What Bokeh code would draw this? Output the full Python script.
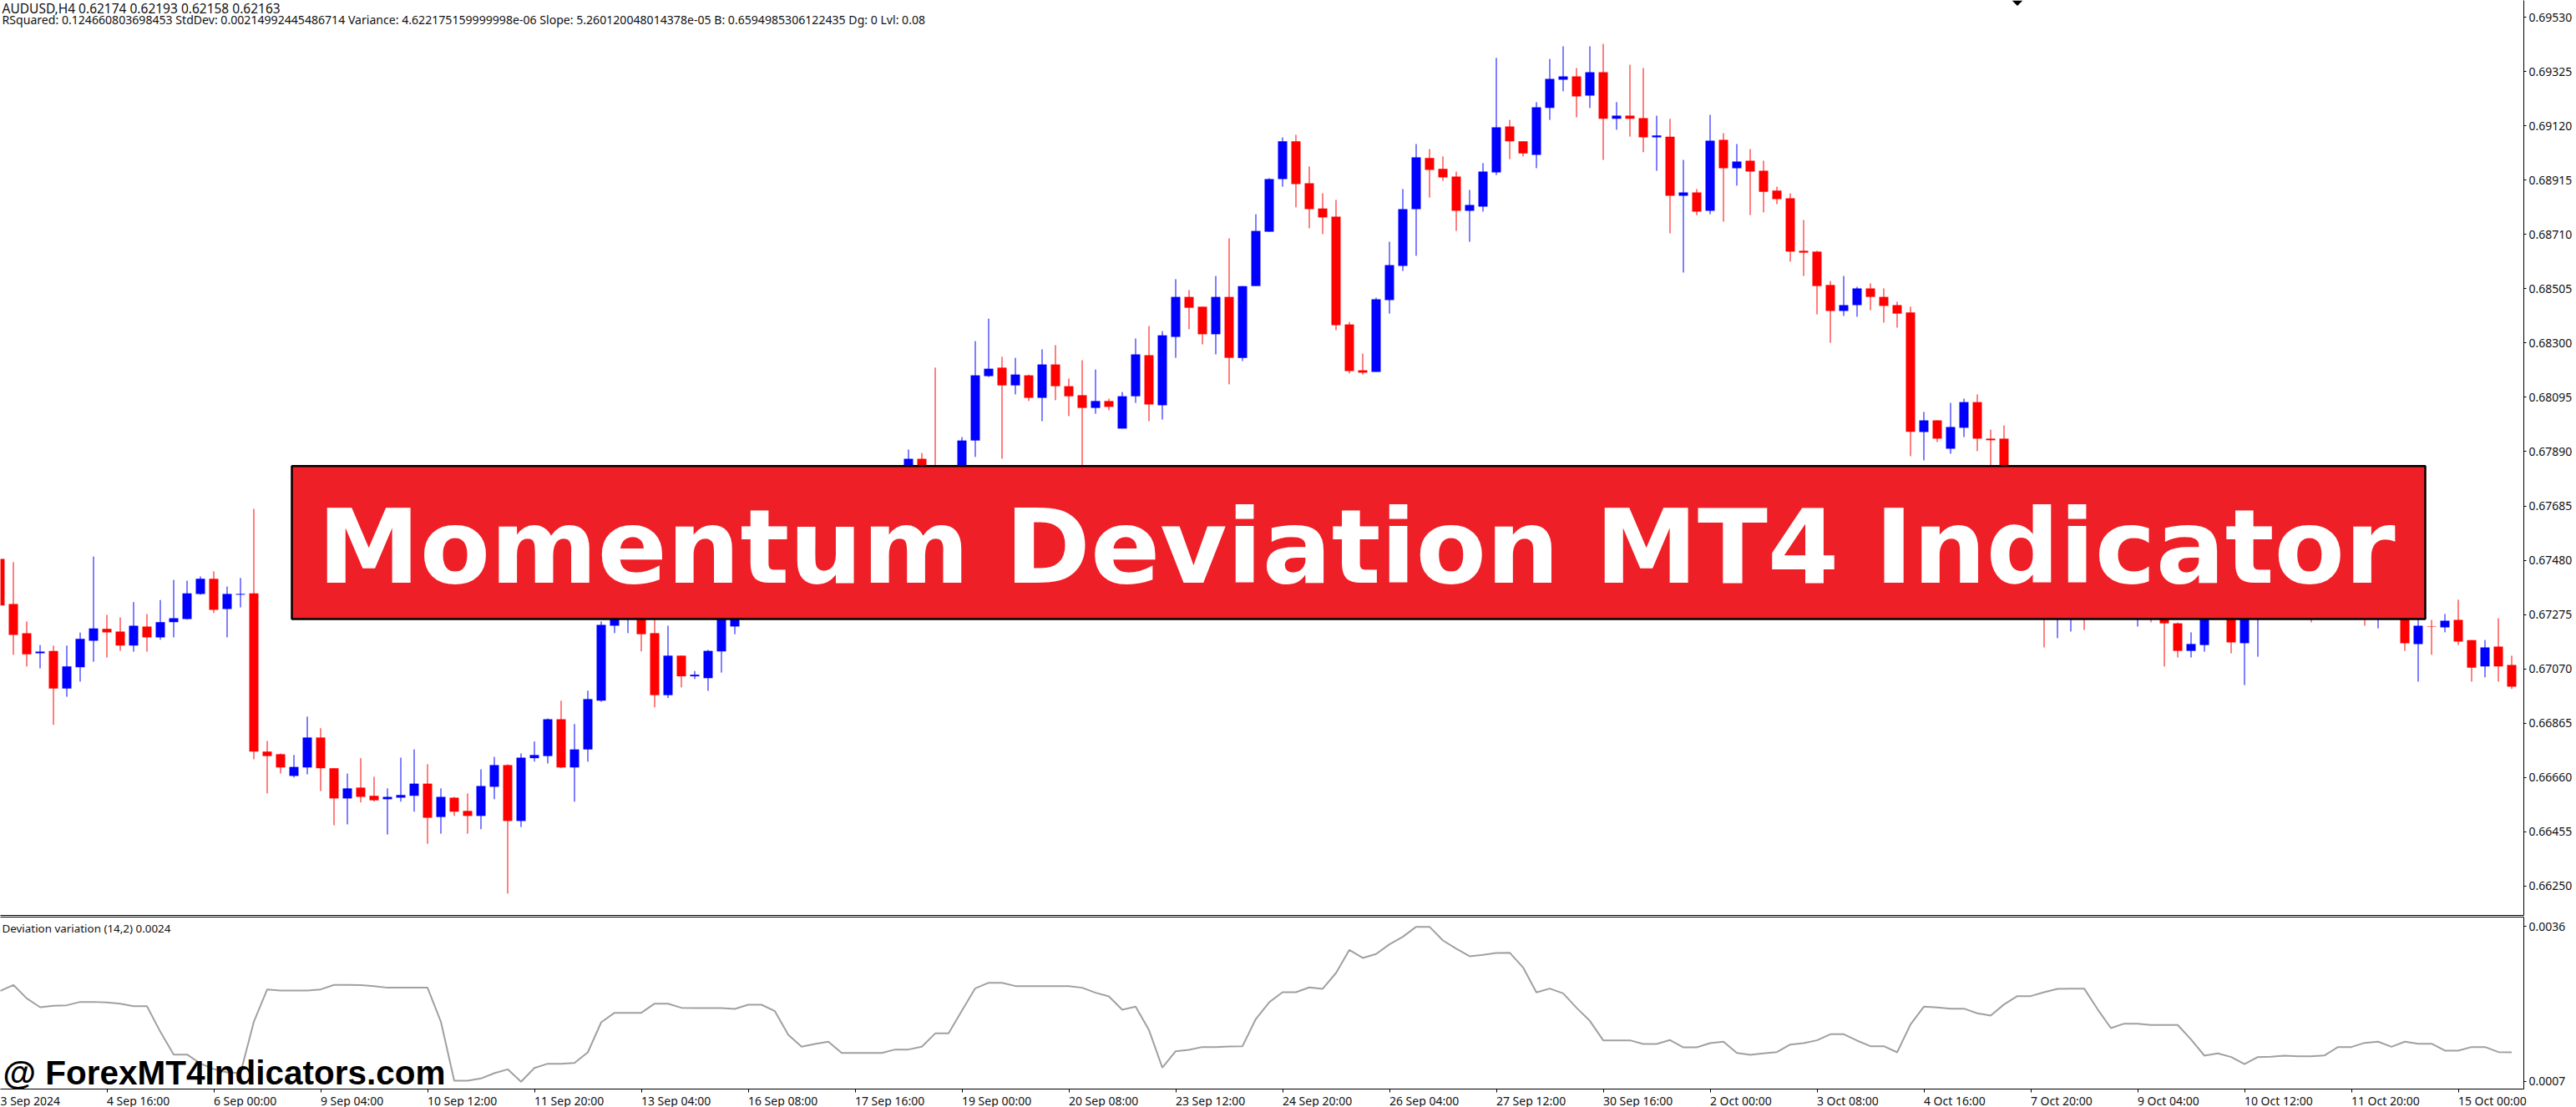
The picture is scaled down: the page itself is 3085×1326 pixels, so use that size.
import numpy as np
from bokeh.embed import file_html
from bokeh.layouts import column
from bokeh.models import (BoxAnnotation, ColumnDataSource, FixedTicker, Label, LinearAxis,
                          PrintfTickFormatter, Range1d)
from bokeh.plotting import figure
from bokeh.resources import INLINE

SYMBOL_LINE = "AUDUSD,H4  0.62174 0.62193 0.62158 0.62163"
STATS_LINE = ("RSquared: 0.124660803698453 StdDev: 0.00214992445486714 Variance: 4.622175159999998e-06 "
              "Slope: 5.260120048014378e-05 B: 0.6594985306122435 Dg: 0 Lvl: 0.08")
INDICATOR_LINE = "Deviation variation (14,2) 0.0024"
BANNER = "Momentum Deviation MT4 Indicator"
WATERMARK = "@ ForexMT4Indicators.com"

# None = bar completely hidden behind the banner (not readable from the picture)
HIGH = [
 .67485,.67473,.67249,.67160,.67158,.67158,.67207,.67494,.67274,.67264,
 .67322,.67277,.67330,.67406,.67403,.67419,.67438,.67381,.67413,.67674,
 .66798,.66751,.66745,.66890,.66846,.66695,.66675,.66733,.66663,.66619,
 .66735,.66766,.66710,.66619,.66587,.66600,.66691,.66738,.66710,.66751,
 .66796,.66883,.66950,.66862,.66988,.67249,.67340,.67330,.67330,.67290,
 .67233,.67120,.67062,.67142,.67300,.67320,None,None,None,None,
 None,None,None,None,None,None,None,None,.67898,.67885,
 .68207,None,.67945,.68307,.68392,.68248,.68244,.68181,.68276,.68292,
 .68166,.68235,.68200,.68090,.68115,.68317,.68364,.68345,.68541,.68500,
 .68437,.68553,.68695,.68515,.68786,.68922,.69076,.69086,.68966,.68865,
 .68840,.68380,.68260,.68471,.68682,.68881,.69051,.69032,.69004,.68947,
 .68878,.68979,.69376,.69142,.69061,.69209,.69372,.69420,.69338,.69420,
 .69429,.69209,.69350,.69338,.69158,.69146,.68991,.68881,.69161,.69092,
 .69051,.69032,.68988,.68890,.68865,.68764,.68648,.68534,.68553,.68512,
 .68525,.68506,.68456,.68437,.68040,.68008,.68074,.68090,.68106,.67973,
 .67989,None,None,.67330,.67330,.67330,.67330,None,None,None,
 .67330,.67330,.67330,.67245,.67208,.67330,None,.67330,.67330,.67330,
 None,None,None,.67330,None,None,None,.67330,.67330,None,
 .67330,.67300,.67255,.67277,.67331,.67179,.67179,.67261,.67120]
LOW = [
 .67309,.67123,.67079,.67072,.66859,.66965,.67022,.67097,.67113,.67138,
 .67135,.67135,.67180,.67189,.67256,.67350,.67281,.67189,.67302,.66729,
 .66600,.66675,.66660,.66672,.66609,.66480,.66483,.66566,.66569,.66445,
 .66569,.66531,.66410,.66448,.66515,.66448,.66465,.66578,.66222,.66473,
 .66720,.66713,.66695,.66569,.66720,.66946,.67205,.67205,.67136,.66925,
 .66960,.67000,.67032,.66987,.67056,.67201,None,None,None,None,
 None,None,None,None,None,None,None,None,.67750,.67770,
 .67700,None,.67700,.67870,.68172,.67863,.68106,.68081,.68005,.68084,
 .68024,.67800,.68033,.68046,.67977,.68074,.68005,.68011,.68244,.68352,
 .68295,.68257,.68144,.68232,.68515,.68720,.68890,.68812,.68733,.68711,
 .68348,.68185,.68181,.68191,.68411,.68572,.68629,.68849,.68912,.68723,
 .68682,.68796,.68934,.68994,.69004,.68960,.69142,.69250,.69152,.69187,
 .68991,.69105,.69079,.69020,.68950,.68714,.68566,.68783,.68786,.68758,
 .68894,.68783,.68793,.68824,.68607,.68553,.68408,.68301,.68402,.68399,
 .68424,.68377,.68358,.67873,.67857,.67926,.67882,.67945,.67892,.67800,
 .67760,None,None,.67151,.67186,.67211,.67217,None,None,None,
 .67230,.67246,.67079,.67113,.67113,.67135,None,.67129,.67009,.67116,
 None,None,None,.67246,None,None,None,.67233,.67223,None,
 .67138,.67022,.67123,.67208,.67160,.67022,.67038,.67022,.66994]
OPEN = [
 .67485,.67315,.67205,.67129,.67138,.66996,.67076,.67176,.67221,.67211,
 .67158,.67230,.67189,.67246,.67258,.67353,.67410,.67296,.67350,.67355,
 .66758,.66748,.66666,.66698,.66811,.66695,.66581,.66622,.66591,.66578,
 .66584,.66591,.66637,.66511,.66584,.66534,.66515,.66625,.66707,.66496,
 .66733,.66741,.66880,.66698,.66766,.66950,.67233,.67270,.67300,.67205,
 .66971,.67120,.67042,.67035,.67136,.67230,None,None,None,None,
 None,None,None,None,None,None,None,None,.67780,.67863,
 .67820,None,.67740,.67932,.68175,.68207,.68140,.68178,.68093,.68219,
 .68137,.68103,.68055,.68081,.67977,.68099,.68254,.68065,.68323,.68474,
 .68437,.68333,.68474,.68244,.68515,.68720,.68919,.69061,.68903,.68808,
 .68777,.68370,.68197,.68191,.68462,.68591,.68805,.68998,.68957,.68928,
 .68799,.68815,.68944,.69117,.69061,.69010,.69187,.69294,.69306,.69234,
 .69322,.69146,.69158,.69149,.69076,.69079,.68856,.68868,.68799,.69067,
 .68960,.68988,.68950,.68875,.68846,.68648,.68645,.68519,.68421,.68443,
 .68506,.68474,.68443,.68415,.67964,.68008,.67901,.67980,.68077,.67939,
 .67939,None,None,.67300,.67270,.67270,.67300,None,None,None,
 .67270,.67300,.67300,.67242,.67138,.67160,None,.67300,.67167,.67270,
 None,None,None,.67300,None,None,None,.67300,.67270,None,
 .67300,.67164,.67230,.67227,.67255,.67179,.67079,.67154,.67085]
CLOSE = [
 .67309,.67198,.67125,.67135,.66996,.67079,.67183,.67223,.67208,.67158,
 .67233,.67189,.67246,.67261,.67355,.67410,.67293,.67353,.67353,.66758,
 .66741,.66698,.66700,.66811,.66695,.66581,.66619,.66587,.66574,.66587,
 .66594,.66637,.66508,.66587,.66531,.66515,.66628,.66707,.66496,.66735,
 .66745,.66880,.66698,.66766,.66956,.67236,.67300,.67300,.67201,.66971,
 .67120,.67042,.67048,.67138,.67280,.67280,None,None,None,None,
 None,None,None,None,None,None,None,None,.67863,.67790,
 .67780,None,.67932,.68178,.68203,.68140,.68181,.68093,.68219,.68137,
 .68099,.68055,.68081,.68059,.68099,.68257,.68068,.68329,.68474,.68433,
 .68333,.68474,.68244,.68515,.68723,.68919,.69061,.68900,.68805,.68774,
 .68367,.68194,.68188,.68465,.68594,.68805,.69001,.68953,.68925,.68799,
 .68821,.68947,.69114,.69061,.69016,.69190,.69297,.69306,.69231,.69322,
 .69146,.69158,.69146,.69076,.69083,.68856,.68868,.68796,.69064,.68960,
 .68985,.68947,.68871,.68843,.68645,.68641,.68515,.68421,.68443,.68506,
 .68474,.68440,.68411,.67965,.68008,.67939,.67983,.68077,.67939,.67933,
 .67780,None,None,.67270,.67300,.67300,.67270,None,None,None,
 .67300,.67270,.67242,.67138,.67164,.67300,None,.67170,.67300,.67300,
 None,None,None,.67270,None,None,None,.67270,.67300,None,
 .67167,.67233,.67228,.67252,.67173,.67075,.67151,.67079,.67003]

DEVIATION = [
 .002390,.002505,.002254,.002087,.002114,.002124,.002187,.002187,.002176,.002155,
 .002108,.002108,.001628,.001201,.001201,.001034,.000930,.000867,.000851,.001816,
 .002421,.002400,.002400,.002400,.002421,.002505,.002505,.002500,.002484,.002453,
 .002453,.002453,.002453,.001816,.000710,.000710,.000752,.000851,.000924,.000690,
 .000950,.001029,.001029,.001044,.001242,.001806,.001983,.001983,.001983,.002155,
 .002155,.002077,.002072,.002072,.002072,.002056,.002134,.002134,.002014,.001571,
 .001347,.001399,.001441,.001232,.001232,.001232,.001232,.001295,.001295,.001347,
 .001597,.001597,.002025,.002442,.002546,.002546,.002484,.002484,.002484,.002484,
 .002484,.002453,.002359,.002291,.002041,.002098,.001660,.000956,.001263,.001289,
 .001342,.001342,.001352,.001357,.001868,.002181,.002369,.002369,.002458,.002432,
 .002729,.003162,.003011,.003084,.003266,.003407,.003595,.003595,.003339,.003183,
 .003042,.003068,.003105,.003110,.002833,.002364,.002437,.002348,.002077,.001832,
 .001467,.001467,.001467,.001399,.001399,.001472,.001336,.001336,.001415,.001441,
 .001232,.001196,.001222,.001248,.001389,.001415,.001467,.001582,.001582,.001462,
 .001357,.001357,.001242,.001764,.002098,.002082,.002061,.002061,.001973,.001931,
 .002140,.002296,.002296,.002369,.002432,.002437,.002437,.002051,.001696,.001780,
 .001780,.001754,.001754,.001754,.001482,.001180,.001222,.001154,.001023,.001154,
 .001159,.001180,.001169,.001169,.001185,.001342,.001342,.001420,.001441,.001347,
 .001441,.001404,.001404,.001274,.001274,.001342,.001342,.001248,.001242]

PRICE_TICKS = [.66250,.66455,.66660,.66865,.67070,.67275,.67480,.67685,.67890,.68095,
               .68300,.68505,.68710,.68915,.69120,.69325,.69530]
DEV_TICKS = [.0007,.0036]
TIME_LABELS = ["3 Sep 2024","4 Sep 16:00","6 Sep 00:00","9 Sep 04:00","10 Sep 12:00","11 Sep 20:00",
               "13 Sep 04:00","16 Sep 08:00","17 Sep 16:00","19 Sep 00:00","20 Sep 08:00","23 Sep 12:00",
               "24 Sep 20:00","26 Sep 04:00","27 Sep 12:00","30 Sep 16:00","2 Oct 00:00","3 Oct 08:00",
               "4 Oct 16:00","7 Oct 20:00","9 Oct 04:00","10 Oct 12:00","11 Oct 20:00","15 Oct 00:00"]
TIME_STEP = 8      # bars between two time labels
SHIFT_BAR = 151    # MT4 chart-shift marker

# ---------- layout (page pixels) ----------
BAR_PX, FRAME_W, MAIN_H, GAP, SUB_TOP, SUB_H = 16, 3022, 1096, 2, 1098, 206
PX_PER_PRICE = 65.06 / 0.00205
X0 = 0.5 / BAR_PX
PTOP = 0.69530 + 20 / PX_PER_PRICE
DTOP, DK = 0.003777, (0.003777 - 0.000554) / SUB_H

def X(px): return X0 + px / BAR_PX
def Y(py): return PTOP - py / PX_PER_PRICE
def Y2(py): return DTOP - (py - SUB_TOP) * DK

x_range = Range1d(X(0), X(FRAME_W))
AXIS_FONT, SMALL_FONT = "Noto Sans", "Noto Sans"

# rough advance widths (px) of Noto Sans at 14px: labels start at their tick in MT4,
# Bokeh centres them, so the label axis is shifted by half of each label's width
ADV = {" ": 3.64, ":": 3.75, "S": 7.7, "e": 7.87, "p": 8.6, "O": 10.9, "c": 6.7, "t": 5.0}
def half_width_bars(s):
    return sum(ADV.get(ch, 8.0) for ch in s) / 2 / BAR_PX

def base(y_range, bottom):
    f = figure(frame_width=FRAME_W, output_backend="svg", toolbar_location=None,
               x_range=x_range, y_range=y_range, y_axis_location="right",
               min_border=0, min_border_right=63, min_border_bottom=bottom,
               background_fill_color="white", border_fill_color="white")
    f.grid.visible = False
    f.outline_line_color = None
    ax = f.yaxis[0]
    ax.axis_line_color = "black"
    ax.major_tick_line_color = "black"
    ax.major_tick_out, ax.major_tick_in, ax.minor_tick_out, ax.minor_tick_in = 3, 0, 0, 0
    ax.major_label_standoff = 3
    ax.major_label_text_font = AXIS_FONT
    ax.major_label_text_font_size = "14px"
    ax.major_label_text_color = "#111111"
    return f

# ---------- main pane ----------
p1 = base(Range1d(Y(MAIN_H), Y(0)), GAP)
p1.frame_height = MAIN_H
p1.yaxis[0].ticker = FixedTicker(ticks=PRICE_TICKS)
p1.yaxis[0].formatter = PrintfTickFormatter(format="%.5f")
bx = p1.xaxis[0]
bx.ticker = FixedTicker(ticks=[])
bx.major_tick_out = bx.major_tick_in = bx.minor_tick_out = bx.minor_tick_in = 0
bx.major_label_standoff = 0
bx.axis_line_color = "black"

o, h, l, c = (np.array(a, dtype=float) for a in (OPEN, HIGH, LOW, CLOSE))
idx = np.arange(len(o))
ok = ~np.isnan(o)
colors = np.where(c > o, "#0000FF", "#FF0000")
src = ColumnDataSource(dict(x=idx[ok], o=o[ok], h=h[ok], l=l[ok], c=c[ok], color=colors[ok],
                            top=np.maximum(o, c)[ok], bot=np.minimum(o, c)[ok]))
p1.segment("x", "h", "x", "l", color="color", line_width=1, source=src)
p1.vbar("x", top="top", bottom="bot", width=11 / BAR_PX, fill_color="color", line_color=None, source=src)

p1.patch([SHIFT_BAR - 6.5 / BAR_PX, SHIFT_BAR + 6.5 / BAR_PX, SHIFT_BAR], [Y(0), Y(0), Y(6.5)],
         color="black", line_width=0)

p1.add_layout(Label(x=X(2), y=Y(9), text=SYMBOL_LINE, text_font=SMALL_FONT, text_font_size="15.5px",
                    text_baseline="middle", text_color="#111111"))
p1.add_layout(Label(x=X(2), y=Y(23), text=STATS_LINE, text_font=SMALL_FONT, text_font_size="14.1px",
                    text_baseline="middle", text_color="#111111"))

p1.add_layout(BoxAnnotation(left=X(349), right=X(2904), top=Y(557.7), bottom=Y(741),
                            fill_color="#EF1F27", fill_alpha=1, line_color="black", line_alpha=1,
                            line_width=2.5, level="annotation"))
p1.add_layout(Label(x=X(1624), y=Y(655), text=BANNER, text_font="DejaVu Sans", text_font_style="bold",
                    text_font_size="123px", text_color="white", text_align="center",
                    text_baseline="middle", level="annotation"))

# ---------- indicator pane ----------
p2 = base(Range1d(Y2(SUB_TOP + SUB_H), Y2(SUB_TOP)), 22)
p2.frame_height = SUB_H
p2.yaxis[0].ticker = FixedTicker(ticks=DEV_TICKS)
p2.yaxis[0].formatter = PrintfTickFormatter(format="%.4f")

# tick marks: one axis without labels
ticks = [i * TIME_STEP for i in range(len(TIME_LABELS))]
tx = p2.xaxis[0]
tx.ticker = FixedTicker(ticks=ticks)
tx.major_label_overrides = {t: "" for t in ticks}
tx.major_tick_out, tx.major_tick_in, tx.minor_tick_out, tx.minor_tick_in = 4, 0, 0, 0
tx.major_label_standoff = 0
tx.axis_line_color = "black"
tx.major_tick_line_color = "black"

# labels: a second axis whose ticks sit at the centre of each left-aligned label
label_at = [round(t + half_width_bars(s), 3) for t, s in zip(ticks, TIME_LABELS)]
lx = LinearAxis(ticker=FixedTicker(ticks=label_at),
                major_label_overrides=dict(zip(label_at, TIME_LABELS)),
                major_tick_out=0, major_tick_in=0, minor_tick_out=0, minor_tick_in=0,
                major_label_standoff=0, axis_line_color=None,
                major_label_text_font=AXIS_FONT, major_label_text_font_size="14px",
                major_label_text_color="#111111")
p2.add_layout(lx, "below")

top_ax = LinearAxis(ticker=FixedTicker(ticks=[]), major_tick_out=0, major_tick_in=0,
                    minor_tick_out=0, minor_tick_in=0, major_label_standoff=0,
                    axis_line_color="black")
p2.add_layout(top_ax, "above")

p2.line(np.arange(len(DEVIATION)), DEVIATION, line_color="#A0A0A0", line_width=2)

p2.add_layout(Label(x=X(2), y=Y2(1111), text=INDICATOR_LINE, text_font=SMALL_FONT,
                    text_font_size="13.4px", text_baseline="middle", text_color="#111111"))
p2.add_layout(Label(x=X(3), y=Y2(1284.5), text=WATERMARK, text_font="Liberation Sans", text_font_style="bold",
                    text_font_size="40.5px", text_color="black", text_baseline="middle"))

layout = column(p1, p2, spacing=0)
open("out.html", "w").write(file_html(layout, INLINE))
